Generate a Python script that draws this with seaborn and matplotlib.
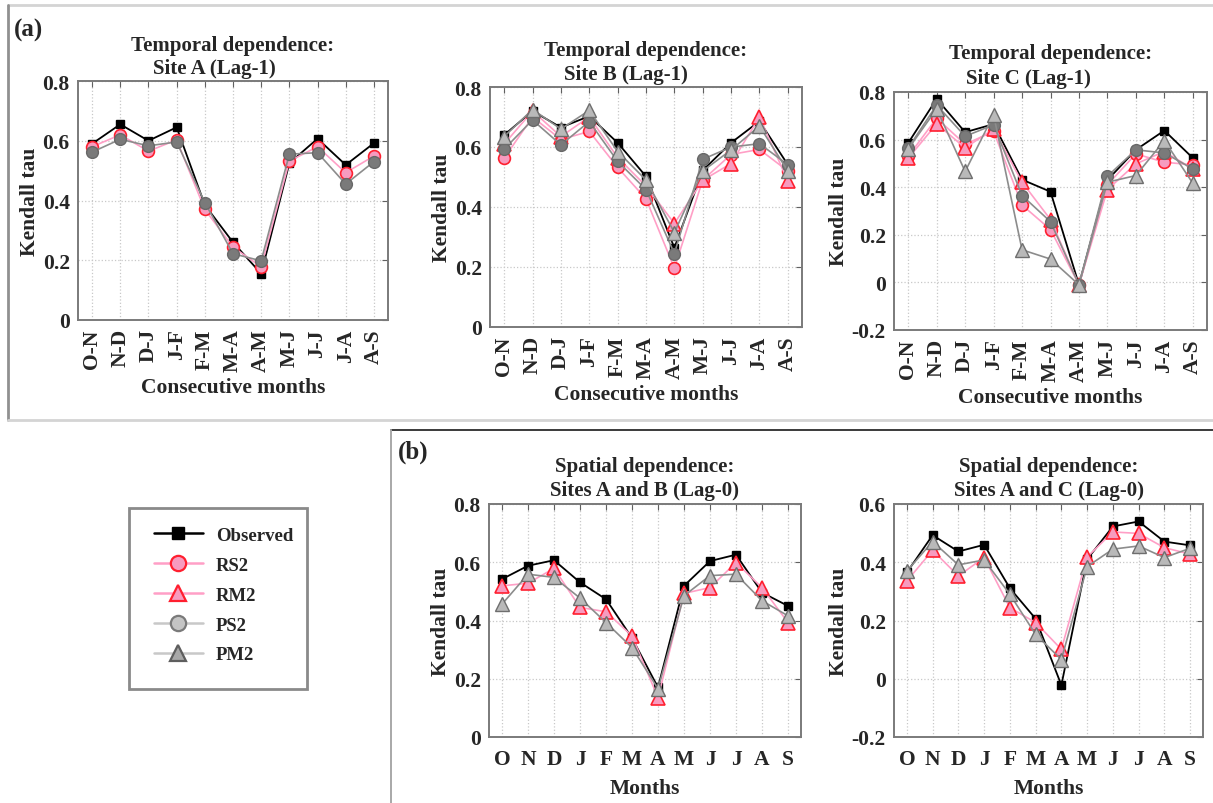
import numpy as np
import pandas as pd
import seaborn as sns
import matplotlib
matplotlib.use("Agg")
import matplotlib.pyplot as plt
from matplotlib.lines import Line2D
from matplotlib.patches import Rectangle
from matplotlib.ticker import FuncFormatter, FixedLocator

# ---------------- data ----------------
pair_labels = ["O-N", "N-D", "D-J", "J-F", "F-M", "M-A", "A-M", "M-J", "J-J", "J-A", "A-S"]
month_labels = ["O", "N", "D", "J", "F", "M", "A", "M", "J", "J", "A", "S"]

# Temporal dependence, Site A (Lag-1)
obs_A = [0.590, 0.655, 0.600, 0.645, 0.385, 0.260, 0.155, 0.525, 0.607, 0.519, 0.592]
rs2_A = [0.580, 0.620, 0.565, 0.603, 0.370, 0.244, 0.178, 0.532, 0.580, 0.493, 0.549]
ps2_A = [0.562, 0.605, 0.583, 0.596, 0.393, 0.222, 0.198, 0.555, 0.560, 0.455, 0.530]

# Temporal dependence, Site B (Lag-1)
obs_B = [0.640, 0.720, 0.665, 0.703, 0.614, 0.502, 0.264, 0.522, 0.614, 0.686, 0.541]
rs2_B = [0.563, 0.700, 0.625, 0.652, 0.532, 0.427, 0.196, 0.490, 0.575, 0.592, 0.520]
rm2_B = [0.610, 0.720, 0.635, 0.700, 0.565, 0.470, 0.345, 0.489, 0.545, 0.700, 0.487]
ps2_B = [0.593, 0.690, 0.607, 0.685, 0.552, 0.458, 0.245, 0.559, 0.600, 0.611, 0.541]
pm2_B = [0.635, 0.725, 0.660, 0.722, 0.585, 0.490, 0.315, 0.520, 0.590, 0.670, 0.520]

# Temporal dependence, Site C (Lag-1)
obs_C = [0.586, 0.771, 0.631, 0.665, 0.432, 0.381, -0.010, 0.430, 0.557, 0.638, 0.523]
rs2_C = [0.530, 0.690, 0.580, 0.635, 0.325, 0.222, -0.010, 0.410, 0.540, 0.505, 0.494]
rm2_C = [0.522, 0.666, 0.565, 0.645, 0.421, 0.264, -0.010, 0.390, 0.498, 0.550, 0.477]
ps2_C = [0.565, 0.745, 0.614, 0.662, 0.365, 0.255, -0.010, 0.446, 0.557, 0.544, 0.477]
pm2_C = [0.561, 0.729, 0.466, 0.704, 0.137, 0.098, -0.010, 0.421, 0.449, 0.596, 0.417]

# Spatial dependence, Sites A and B (Lag-0)
obs_D = [0.542, 0.588, 0.607, 0.531, 0.473, 0.340, 0.170, 0.519, 0.604, 0.626, 0.496, 0.450]
rm2_D = [0.519, 0.528, 0.579, 0.445, 0.430, 0.347, 0.135, 0.493, 0.513, 0.599, 0.513, 0.393]
pm2_D = [0.456, 0.559, 0.548, 0.477, 0.393, 0.307, 0.166, 0.485, 0.554, 0.559, 0.468, 0.416]

# Spatial dependence, Sites A and C (Lag-0)
obs_E = [0.365, 0.493, 0.437, 0.460, 0.311, 0.206, -0.022, 0.410, 0.523, 0.540, 0.471, 0.458]
rm2_E = [0.336, 0.441, 0.353, 0.416, 0.244, 0.193, 0.101, 0.418, 0.504, 0.499, 0.450, 0.428]
pm2_E = [0.370, 0.471, 0.391, 0.408, 0.290, 0.152, 0.066, 0.385, 0.445, 0.456, 0.416, 0.448]

# ---------------- styles ----------------
PINK_LINE = "#ff9fc6"
PINK_FACE = "#f79bbf"
RED_EDGE = "#ff1f2f"
styles = {
    "Observed": dict(color="black", marker="s", markersize=6, markerfacecolor="black",
                     markeredgecolor="black", markeredgewidth=1.0, linewidth=1.3),
    "RS2": dict(color=PINK_LINE, marker="o", markersize=8.5, markerfacecolor=PINK_FACE,
                markeredgecolor=RED_EDGE, markeredgewidth=1.2, linewidth=1.2),
    "RM2": dict(color=PINK_LINE, marker="^", markersize=10, markerfacecolor=PINK_FACE,
                markeredgecolor=RED_EDGE, markeredgewidth=1.2, linewidth=1.2),
    "PS2": dict(color="#8c8c8c", marker="o", markersize=8.5, markerfacecolor="#7a7a7a",
                markeredgecolor="#686868", markeredgewidth=1.0, linewidth=1.2),
    "PM2": dict(color="#8c8c8c", marker="^", markersize=10, markerfacecolor="#b9b9b9",
                markeredgecolor="#6e6e6e", markeredgewidth=1.0, linewidth=1.2),
}
legend_styles = {
    "Observed": dict(color="black", marker="s", markersize=8, markerfacecolor="black",
                     markeredgecolor="black", linewidth=1.8),
    "RS2": dict(color=PINK_LINE, marker="o", markersize=11, markerfacecolor=PINK_FACE,
                markeredgecolor=RED_EDGE, markeredgewidth=1.6, linewidth=1.8),
    "RM2": dict(color=PINK_LINE, marker="^", markersize=11, markerfacecolor=PINK_FACE,
                markeredgecolor=RED_EDGE, markeredgewidth=1.6, linewidth=1.8),
    "PS2": dict(color="#c8c8c8", marker="o", markersize=11, markerfacecolor="#c4c4c4",
                markeredgecolor="#7a7a7a", markeredgewidth=1.6, linewidth=1.8),
    "PM2": dict(color="#c8c8c8", marker="^", markersize=11, markerfacecolor="#a8a8a8",
                markeredgecolor="#5e5e5e", markeredgewidth=1.6, linewidth=1.8),
}

sns.set_style("white")
plt.rcParams["font.family"] = ["Liberation Serif", "DejaVu Serif"]
plt.rcParams["font.weight"] = "bold"
plt.rcParams["axes.labelweight"] = "bold"
plt.rcParams["axes.titleweight"] = "bold"

W, H = 1213, 804
fig = plt.figure(figsize=(W / 100, H / 100), dpi=100)


def px_axes(left, top, right, bottom):
    return fig.add_axes([left / W, 1 - bottom / H, (right - left) / W, (bottom - top) / H])


def fmt(v, _):
    if abs(v) < 1e-9:
        return "0"
    return f"{v:.1f}"


def draw_panel(ax, labels, series, ylim, title1, title2, xlabel, rotate,
               t2_shift=0.0, t1_off=28, t2_off=4):
    pos = np.arange(len(labels))
    for name, vals in series:
        df = pd.DataFrame({"pos": pos, "tau": vals})
        sns.lineplot(data=df, x="pos", y="tau", ax=ax, errorbar=None, sort=False,
                     **styles[name])
    ax.set_xlim(-0.5, len(labels) - 0.5)
    ax.set_ylim(*ylim)
    ax.yaxis.set_major_locator(FixedLocator(np.arange(ylim[0], ylim[1] + 1e-9, 0.2)))
    ax.yaxis.set_major_formatter(FuncFormatter(fmt))
    ax.set_xticks(pos)
    ax.set_xticklabels(labels, rotation=90 if rotate else 0)
    ax.grid(True, linestyle=":", color="#c8c8c8", linewidth=0.9)
    ax.tick_params(direction="in", top=True, right=True, length=4, width=0.8,
                   color="#606060", labelsize=15.5)
    ax.tick_params(axis="y", pad=6)
    ax.tick_params(axis="x", pad=6 if rotate else 9)
    for s in ax.spines.values():
        s.set_color("#7a7a7a")
        s.set_linewidth(1.4)
    ax.set_xlabel(xlabel, fontsize=15.5, labelpad=4 if rotate else 6)
    ax.set_ylabel("Kendall tau", fontsize=15.5, labelpad=2)
    ax.annotate(title1, xy=(0.5, 1.0), xycoords="axes fraction", xytext=(0, t1_off),
                textcoords="offset pixels", ha="center", va="bottom", fontsize=15,
                fontweight="bold")
    ax.annotate(title2, xy=(0.5 + t2_shift, 1.0), xycoords="axes fraction",
                xytext=(0, t2_off), textcoords="offset pixels", ha="center", va="bottom",
                fontsize=15, fontweight="bold")


axA = px_axes(78, 82, 388, 321)
axB = px_axes(490, 88, 802, 328)
axC = px_axes(894, 93, 1207, 331)
axD = px_axes(489, 505, 801, 738)
axE = px_axes(894, 505, 1203, 738)

draw_panel(axA, pair_labels, [("Observed", obs_A), ("RS2", rs2_A), ("PS2", ps2_A)],
           (0, 0.8), "Temporal dependence:", "Site A (Lag-1)", "Consecutive months", True,
           t2_shift=-0.06, t1_off=26, t2_off=3)
draw_panel(axB, pair_labels, [("Observed", obs_B), ("RS2", rs2_B), ("RM2", rm2_B),
                              ("PS2", ps2_B), ("PM2", pm2_B)],
           (0, 0.8), "Temporal dependence:", "Site B (Lag-1)", "Consecutive months", True,
           t2_shift=-0.065, t1_off=27, t2_off=3)
draw_panel(axC, pair_labels, [("Observed", obs_C), ("RS2", rs2_C), ("RM2", rm2_C),
                              ("PS2", ps2_C), ("PM2", pm2_C)],
           (-0.2, 0.8), "Temporal dependence:", "Site C (Lag-1)", "Consecutive months", True,
           t2_shift=-0.07, t1_off=29, t2_off=4)
draw_panel(axD, month_labels, [("Observed", obs_D), ("RM2", rm2_D), ("PM2", pm2_D)],
           (0, 0.8), "Spatial dependence:", "Sites A and B (Lag-0)", "Months", False)
draw_panel(axE, month_labels, [("Observed", obs_E), ("RM2", rm2_E), ("PM2", pm2_E)],
           (-0.2, 0.6), "Spatial dependence:", "Sites A and C (Lag-0)", "Months", False)

# panel group frames
def fline(x0, y0, x1, y1, color, lw):
    fig.add_artist(Line2D([x0 / W, x1 / W], [1 - y0 / H, 1 - y1 / H], color=color,
                          linewidth=lw, transform=fig.transFigure))

fline(8, 6, W, 6, "#d4d4d4", 2.0)
fline(8, 6, 8, 421, "#909090", 2.0)
fline(8, 421, W, 421, "#d4d4d4", 2.0)
fline(391, 431, W, 431, "#3a3a3a", 1.4)
fline(391, 431, 391, H, "#a8a8a8", 1.4)

fig.text(14 / W, 1 - 30 / H, "(a)", fontsize=18, fontweight="bold", ha="left", va="center")
fig.text(398 / W, 1 - 452 / H, "(b)", fontsize=18, fontweight="bold", ha="left", va="center")

# legend box
fig.add_artist(Rectangle((129 / W, 1 - 690 / H), (307 - 129) / W, (690 - 509) / H,
                         transform=fig.transFigure, fill=False, edgecolor="#8a8a8a",
                         linewidth=2.0))
handles = [Line2D([], [], **legend_styles[n]) for n in ["Observed", "RS2", "RM2", "PS2", "PM2"]]
fig.legend(handles, ["Observed", "RS2", "RM2", "PS2", "PM2"], loc="upper left",
           bbox_to_anchor=(137 / W, 1 - 511 / H), frameon=False,
           handlelength=2.6, labelspacing=0.68, handletextpad=0.7,
           prop={"weight": "bold", "size": 13.5})

fig.savefig("out.png", dpi=100, facecolor="white")
